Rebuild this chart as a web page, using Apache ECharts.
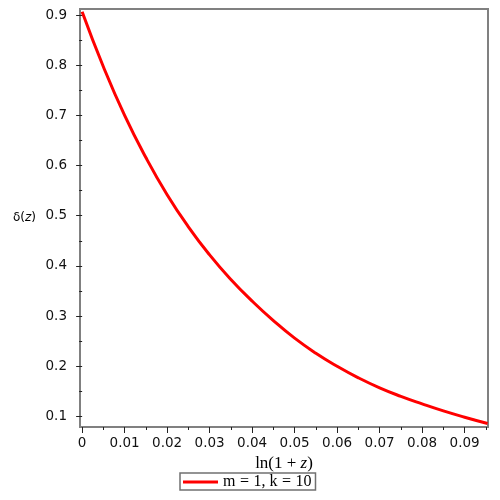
<!DOCTYPE html>
<html>
<head>
<meta charset="utf-8">
<script src="https://cdn.jsdelivr.net/npm/echarts@6/dist/echarts.min.js"></script>
<style>
  html, body { margin: 0; padding: 0; background: #fff; }
  #main { width: 500px; height: 500px; }
</style>
</head>
<body>
<div id="main"></div>
<script>
// curve: x = ln(1+z), y = delta(z)
const lnz = [0, 0.005, 0.01, 0.015, 0.02, 0.025, 0.03, 0.035, 0.04, 0.045, 0.05,
             0.055, 0.06, 0.065, 0.07, 0.075, 0.08, 0.085, 0.09, 0.0954];
const delta = [0.9066, 0.797, 0.700, 0.616, 0.542, 0.478, 0.422, 0.373, 0.330, 0.291, 0.256,
               0.226, 0.200, 0.177, 0.157, 0.140, 0.125, 0.111, 0.0985, 0.086];

const xTicks = [0, 0.01, 0.02, 0.03, 0.04, 0.05, 0.06, 0.07, 0.08, 0.09];
const xMinor = [0.005, 0.015, 0.025, 0.035, 0.045, 0.055, 0.065, 0.075, 0.085, 0.095];
const yTicks = [0.1, 0.2, 0.3, 0.4, 0.5, 0.6, 0.7, 0.8, 0.9];
const yMinor = [0.15, 0.25, 0.35, 0.45, 0.55, 0.65, 0.75, 0.85];

const seriesName = 'm=1, k=10';

const myChart = echarts.init(document.getElementById('main'));

const fmt = v => (Math.abs(v) < 1e-9 ? '0' : String(+v.toFixed(2)));

const xBase = {
  type: 'value',
  min: -0.0005,
  max: 0.0955,
  splitLine: { show: false },
  axisLine: { show: false }
};
const yBase = {
  type: 'value',
  min: 0.079,
  max: 0.912,
  splitLine: { show: false },
  axisLine: { show: false }
};
const tickStyle = { color: '#222', width: 1 };

const option = {
  animation: false,
  grid: {
    left: 80, right: 12, top: 9, bottom: 73,
    show: true,
    borderColor: '#808080',
    borderWidth: 2
  },
  legend: {
    data: [seriesName],
    bottom: 10,
    left: 180,
    icon: 'rect',
    itemWidth: 35,
    itemHeight: 3,
    padding: [1, 4, 0, 3],
    borderColor: '#707070',
    borderWidth: 1.5,
    borderRadius: 0,
    formatter: () => '{t|m}{e|=}{t|1, k}{e|=}{t|10}',
    textStyle: {
      fontFamily: 'Liberation Serif',
      fontSize: 16,
      color: '#000',
      rich: {
        t: { fontFamily: 'Liberation Serif', fontSize: 16, color: '#000' },
        e: { fontFamily: 'Liberation Serif', fontSize: 16, color: '#000', padding: [0, 4.5] }
      }
    }
  },
  xAxis: [
    Object.assign({}, xBase, {
      name: '{n|ln(1 + }{z|z}{n|)}',
      nameLocation: 'middle',
      nameGap: 27,
      nameTextStyle: {
        rich: {
          n: { fontFamily: 'Liberation Serif', fontSize: 17, color: '#000' },
          z: { fontFamily: 'Liberation Serif', fontSize: 17, fontStyle: 'italic', color: '#000' }
        }
      },
      axisTick: { show: true, customValues: xTicks, length: 6, lineStyle: tickStyle },
      axisLabel: {
        customValues: xTicks,
        formatter: fmt,
        margin: 9,
        fontFamily: 'DejaVu Sans',
        fontSize: 13.5,
        color: '#111'
      }
    }),
    Object.assign({}, xBase, {
      position: 'bottom',
      axisTick: { show: true, customValues: xMinor, length: 3, lineStyle: tickStyle },
      axisLabel: { show: false }
    })
  ],
  yAxis: [
    Object.assign({}, yBase, {
      name: '{d|δ(}{z|z}{d|)}',
      nameLocation: 'middle',
      nameRotate: 0,
      nameGap: 44,
      nameTextStyle: {
        rich: {
          d: { fontFamily: 'DejaVu Sans', fontSize: 12, color: '#000' },
          z: { fontFamily: 'DejaVu Sans', fontSize: 12, fontStyle: 'italic', color: '#000' }
        }
      },
      axisTick: { show: true, customValues: yTicks, length: 6, lineStyle: tickStyle },
      axisLabel: {
        customValues: yTicks,
        formatter: fmt,
        margin: 13,
        fontFamily: 'DejaVu Sans',
        fontSize: 13.5,
        color: '#111'
      }
    }),
    Object.assign({}, yBase, {
      position: 'left',
      axisTick: { show: true, customValues: yMinor, length: 3, lineStyle: tickStyle },
      axisLabel: { show: false }
    })
  ],
  series: [
    {
      name: seriesName,
      type: 'line',
      xAxisIndex: 0,
      yAxisIndex: 0,
      data: lnz.map((x, i) => [x, delta[i]]),
      smooth: true,
      symbol: 'none',
      lineStyle: { color: '#ff0000', width: 3 },
      itemStyle: { color: '#ff0000' }
    }
  ]
};

myChart.setOption(option);
</script>
</body>
</html>
